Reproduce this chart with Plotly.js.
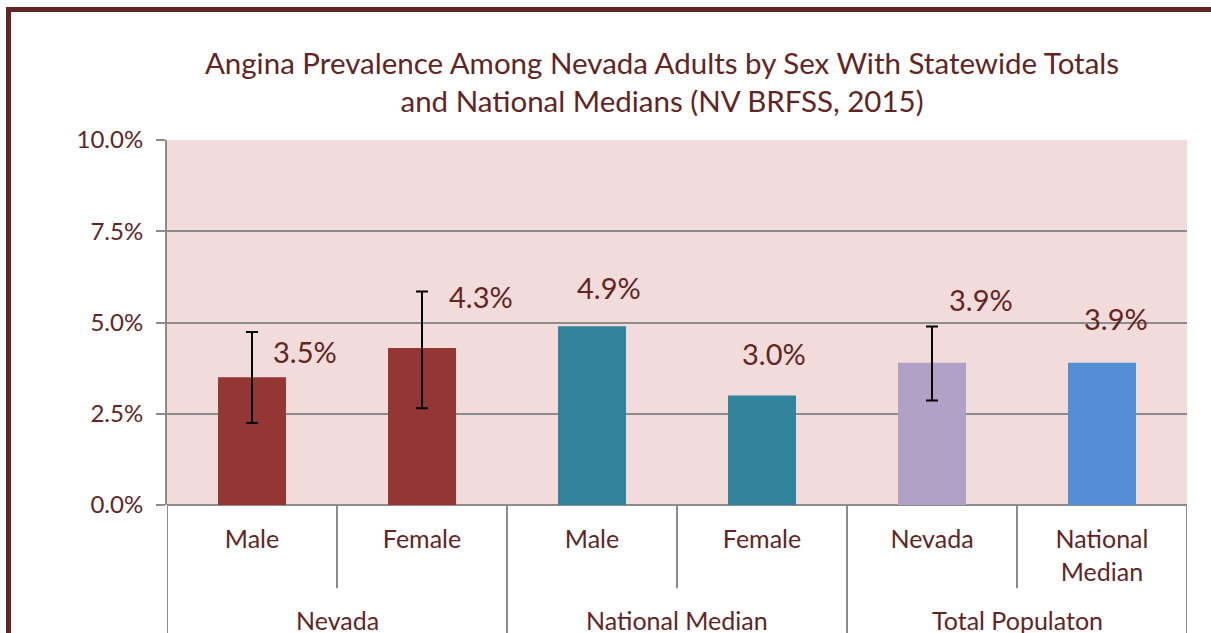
<!DOCTYPE html>
<html>
<head>
<meta charset="utf-8">
<script src="https://cdn.plot.ly/plotly-3.0.1.min.js"></script>
<style>html,body{margin:0;padding:0;background:#fff;}#chart{width:1211px;height:633px;}</style>
</head>
<body>
<div id="chart"></div>
<script>
// ---- data ----
var categories = ["Male", "Female", "Male", "Female", "Nevada", "National<br>Median"];
var groups = ["Nevada", "Nevada", "National Median", "National Median", "Total Populaton", "Total Populaton"];
var values = [3.5, 4.3, 4.9, 3.0, 3.9, 3.9];
var ciLow = [2.25, 2.65, null, null, 2.86, null];
var ciHigh = [4.74, 5.85, null, null, 4.89, null];
var yTicks = [0, 2.5, 5, 7.5, 10];

// ---- style ----
var barColors = ["#943634", "#943634", "#31849B", "#31849B", "#B2A1C7", "#558ED5"];
var labelShift = [[53, 26], [59, 52], [17, 39], [12, 42], [49, 63], [14, 44]];
var txt = "#632523";
var grid = "#8C8C8C";
var font = "Lato";

var idx = values.map(function (v, i) { return i; });
var plus = values.map(function (v, i) { return ciHigh[i] == null ? NaN : ciHigh[i] - v; });
var minus = values.map(function (v, i) { return ciLow[i] == null ? NaN : v - ciLow[i]; });

var trace = {
  type: "bar",
  x: idx,
  y: values,
  marker: { color: barColors },
  width: 0.4,
  error_y: {
    type: "data", symmetric: false,
    array: plus, arrayminus: minus,
    color: "#000000", thickness: 2, width: 6
  },
  hoverinfo: "skip"
};

var annotations = values.map(function (v, i) {
  return {
    x: idx[i], y: v, xref: "x", yref: "y",
    text: v.toFixed(1) + "%", showarrow: false,
    xanchor: "center", yanchor: "middle",
    xshift: labelShift[i][0], yshift: labelShift[i][1],
    font: { family: font, size: 29, color: txt }
  };
});

// group labels
var uniq = [];
groups.forEach(function (g) { if (uniq.indexOf(g) < 0) uniq.push(g); });
uniq.forEach(function (g) {
  var members = idx.filter(function (i) { return groups[i] === g; });
  var c = members.reduce(function (a, b) { return a + b; }, 0) / members.length;
  annotations.push({
    x: c, y: -0.315, xref: "x", yref: "paper", text: g, showarrow: false,
    xanchor: "center", yanchor: "middle",
    font: { family: font, size: 25, color: txt }
  });
});

// divider shapes
var shapes = [];
for (var b = 0; b <= values.length; b++) {
  var isGroupEdge = (b === 0 || b === values.length || groups[b] !== groups[b - 1]);
  shapes.push({
    type: "line", xref: "x", yref: "paper",
    x0: b - 0.5, x1: b - 0.5, y0: 0, y1: isGroupEdge ? -0.4 : -0.228,
    line: { color: grid, width: 2 }
  });
}
// outer chart border (maroon frame)
shapes.push({
  type: "rect", xref: "paper", yref: "paper",
  x0: -0.1554, x1: 1.3, y0: -0.6, y1: 1.3575,
  line: { color: "#632523", width: 5 }, fillcolor: "rgba(0,0,0,0)", layer: "above"
});

var layout = {
  width: 1211, height: 633,
  margin: { l: 167, r: 24, t: 140, b: 128 },
  paper_bgcolor: "#FFFFFF",
  plot_bgcolor: "#F2DCDB",
  showlegend: false,
  title: {
    text: "Angina Prevalence Among Nevada Adults by Sex With Statewide Totals<br>and National Medians (NV BRFSS, 2015)",
    xref: "container", yref: "container",
    x: 662 / 1211, xanchor: "center",
    y: 1 - 74 / 633, yanchor: "top",
    font: { family: font, size: 29.5, color: txt }
  },
  xaxis: {
    range: [-0.5, values.length - 0.5],
    tickvals: idx, ticktext: categories,
    showgrid: false, zeroline: false,
    showline: false, ticks: "",
    ticklabelstandoff: 17,
    tickfont: { family: font, size: 25, color: txt },
    fixedrange: true
  },
  yaxis: {
    range: [0, 10],
    tickvals: yTicks,
    ticktext: yTicks.map(function (t) { return t.toFixed(1) + "%"; }),
    showgrid: true, gridcolor: grid, gridwidth: 2,
    zeroline: true, zerolinecolor: grid, zerolinewidth: 2,
    showline: true, linecolor: grid, linewidth: 2,
    ticks: "outside", ticklen: 9, tickcolor: grid, tickwidth: 2,
    ticklabelstandoff: 8,
    tickfont: { family: font, size: 24, color: txt },
    fixedrange: true
  },
  bargap: 0.6,
  annotations: annotations,
  shapes: shapes
};

Plotly.newPlot("chart", [trace], layout, { displayModeBar: false, staticPlot: true });
</script>
</body>
</html>
